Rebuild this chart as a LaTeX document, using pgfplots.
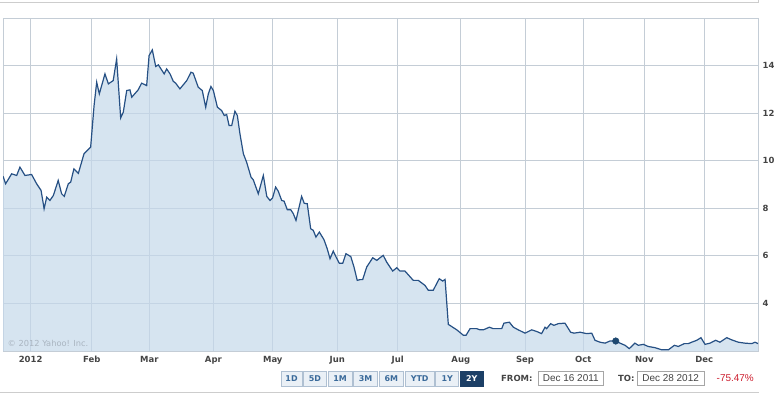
\documentclass[border=0pt]{standalone}
\usepackage{pgfplots}
\usepackage{pgfplotstable}
\pgfplotsset{compat=1.18}
\usepackage{fontspec}
\setmainfont{DejaVu Sans}
\newfontfamily\arial{Liberation Sans}
\definecolor{gridc}{RGB}{196,205,214}
\definecolor{areac}{RGB}{196,216,234}
\definecolor{linec}{RGB}{38,80,132}
\definecolor{dotc}{RGB}{30,72,112}
\definecolor{labc}{RGB}{68,68,68}
\definecolor{btnfill}{RGB}{234,240,246}
\definecolor{btnborder}{RGB}{175,192,210}
\definecolor{btntext}{RGB}{58,106,154}
\definecolor{btnsel}{RGB}{28,63,102}
\definecolor{redc}{RGB}{204,30,46}
\definecolor{copyc}{RGB}{170,181,192}
\definecolor{framec}{RGB}{205,205,205}

\pgfplotstableread{
d v
-13.4 9.35
-12.1 9.03
-9.1 9.45
-6.6 9.38
-5.0 9.73
-2.5 9.38
0.8 9.42
3.3 9.03
5.5 8.75
7.0 7.98
8.3 8.47
9.9 8.33
11.6 8.54
14.0 9.17
15.7 8.61
17.0 8.50
19.0 9.03
20.2 9.10
21.8 9.66
24.0 9.47
26.8 10.29
28.4 10.43
30.1 10.57
31.8 12.32
33.1 13.30
34.4 12.81
37.2 13.65
38.9 13.23
41.3 13.37
43.0 14.28
45.0 11.80
46.3 12.04
48.0 12.95
49.6 12.98
50.5 12.67
53.7 12.98
55.4 13.26
57.9 13.16
59.1 14.42
60.7 14.66
62.4 13.96
63.7 14.03
66.6 13.65
67.8 13.86
69.5 13.65
71.1 13.34
72.3 13.26
74.4 13.02
77.8 13.37
79.9 13.72
81.0 13.68
83.5 13.09
85.5 12.95
87.2 12.25
88.5 12.81
89.8 13.12
91.0 12.95
93.0 12.25
95.1 12.11
96.4 11.90
97.6 11.94
98.8 11.48
100.1 11.48
101.7 12.08
102.9 11.90
104.2 11.13
105.9 10.29
107.5 9.94
109.7 9.31
110.8 9.20
113.3 8.61
115.8 9.38
117.5 8.50
119.1 8.33
120.4 8.44
121.9 8.89
123.2 8.72
124.9 8.33
126.1 8.30
127.7 7.94
129.4 7.94
130.7 7.77
132.0 7.49
134.8 8.50
136.1 8.21
137.6 8.19
139.3 7.14
140.6 7.07
141.9 6.79
143.6 7.00
145.9 6.68
147.5 6.30
148.9 5.88
150.5 6.20
151.9 5.95
153.5 5.69
155.2 5.69
156.8 6.09
159.2 5.97
160.8 5.53
162.4 4.97
163.8 5.00
165.1 5.00
167.1 5.53
170.1 5.92
172.1 5.81
173.7 5.92
175.3 6.02
177.0 5.74
180.0 5.36
182.0 5.50
183.6 5.36
186.1 5.36
190.2 4.97
192.7 4.97
196.0 4.76
197.7 4.55
200.1 4.55
203.1 5.04
204.8 4.94
206.0 5.01
207.6 3.12
211.8 2.89
215.1 2.66
216.4 2.66
218.4 2.94
221.7 2.94
223.3 2.89
225.0 2.89
228.0 3.00
229.9 2.94
234.1 2.94
235.2 3.17
237.9 3.21
239.9 3.00
242.3 2.89
245.7 2.75
249.0 2.89
251.5 2.82
253.9 2.73
255.6 3.00
256.4 2.94
258.4 3.15
260.0 3.08
262.2 3.15
265.5 3.17
268.3 2.79
270.0 2.75
273.0 2.79
276.3 2.73
278.8 2.75
280.4 2.45
282.9 2.37
285.4 2.33
287.8 2.42
290.7 2.42
292.8 2.33
295.3 2.24
297.4 2.10
300.2 2.33
301.9 2.24
304.4 2.28
306.8 2.19
310.2 2.14
313.5 2.05
316.8 2.05
319.8 2.24
321.7 2.19
324.7 2.31
326.7 2.31
328.4 2.37
330.9 2.45
333.0 2.56
335.0 2.28
337.5 2.33
340.3 2.45
342.4 2.37
345.8 2.56
348.2 2.47
351.5 2.37
354.8 2.33
358.2 2.31
359.8 2.37
361.3 2.31
}\pricedata

\begin{document}
\begin{tikzpicture}
\path[use as bounding box] (0,0) rectangle (782bp,393bp);
% frame lines of the widget
\draw[framec, line width=0.8bp] (0,391bp) -- (758bp,391bp) -- (758bp,393bp);
\draw[framec, line width=0.8bp] (0,1bp) -- (758bp,1bp) -- (758bp,0bp);
\begin{axis}[
  at={(3bp,42bp)}, anchor=south west,
  scale only axis, width=755bp, height=333bp,
  xmin=-13.4, xmax=361.3, ymin=2, ymax=16,
  xtick={0.3,30.7,59.2,91,120.5,152.5,182.5,213.8,245.7,274.6,304.9,334.6},
  xticklabels={2012,Feb,Mar,Apr,May,Jun,Jul,Aug,Sep,Oct,Nov,Dec},
  ytick={4,6,8,10,12,14},
  yticklabel pos=right,
  grid=major,
  grid style={gridc, line width=0.8bp},
  axis line style={gridc, line width=0.8bp},
  major tick length=0pt,
  tick style={draw=none},
  tick label style={font=\fontsize{8.5}{10}\selectfont\bfseries, text=labc},
  xticklabel style={inner sep=0pt, anchor=north, yshift=-5bp},
  yticklabel style={inner sep=0pt, anchor=west, xshift=4.5bp},
  /pgf/number format/assume math mode=true,
]
\addplot[draw=none, fill=areac, fill opacity=0.7] table[x=d, y=v] {\pricedata} \closedcycle;
\addplot[linec, line width=1.2bp] table[x=d, y=v] {\pricedata};
\addplot[only marks, mark=*, mark size=3.3bp, mark options={fill=dotc, draw=dotc}] coordinates {(290.7,2.42)};
\node[anchor=west, inner sep=0pt, text=copyc, font=\fontsize{8.3}{10}\selectfont] at (rel axis cs:0.006,0.024) {© 2012 Yahoo! Inc.};
\end{axis}
% range buttons
\tikzset{btn/.style={draw=btnborder, fill=btnfill, line width=0.6bp}}
\tikzset{btnt/.style={text=btntext, font=\fontsize{8}{9}\selectfont\bfseries, inner sep=0pt}}
\draw[btn] (281.2bp,7bp) rectangle (301.9bp,22bp);
\draw[btn] (303.3bp,7bp) rectangle (326.7bp,22bp);
\draw[btn] (328.1bp,7bp) rectangle (352.1bp,22bp);
\draw[btn] (353.5bp,7bp) rectangle (377.6bp,22bp);
\draw[btn] (379.0bp,7bp) rectangle (403.7bp,22bp);
\draw[btn] (405.1bp,7bp) rectangle (434.3bp,22bp);
\draw[btn] (435.7bp,7bp) rectangle (458.7bp,22bp);
\draw[draw=btnsel, fill=btnsel, line width=0.6bp] (460.1bp,7bp) rectangle (483.4bp,22bp);
\node[btnt] at (291.55bp,14.5bp) {1D};
\node[btnt] at (315.0bp,14.5bp) {5D};
\node[btnt] at (340.1bp,14.5bp) {1M};
\node[btnt] at (365.55bp,14.5bp) {3M};
\node[btnt] at (391.35bp,14.5bp) {6M};
\node[btnt] at (419.7bp,14.5bp) {YTD};
\node[btnt] at (447.2bp,14.5bp) {1Y};
\node[btnt, text=white] at (471.75bp,14.5bp) {2Y};
% date range
\node[anchor=west, inner sep=0pt, text=labc, font=\fontsize{8.5}{10}\selectfont\bfseries] at (501bp,15bp) {FROM:};
\draw[gray!70, line width=0.6bp, fill=white] (538.3bp,8bp) rectangle (603.3bp,21.5bp);
\node[inner sep=0pt, text=labc, font=\arial\fontsize{10}{12}\selectfont] at (570.8bp,14.7bp) {Dec 16 2011};
\node[anchor=west, inner sep=0pt, text=labc, font=\fontsize{8.5}{10}\selectfont\bfseries] at (618bp,15bp) {TO:};
\draw[gray!70, line width=0.6bp, fill=white] (637.3bp,8bp) rectangle (704bp,21.5bp);
\node[inner sep=0pt, text=labc, font=\arial\fontsize{10}{12}\selectfont] at (670.6bp,14.7bp) {Dec 28 2012};
\node[anchor=west, inner sep=0pt, text=redc, font=\arial\fontsize{10}{12}\selectfont] at (716.5bp,14.7bp) {-75.47\%};
\end{tikzpicture}
\end{document}
